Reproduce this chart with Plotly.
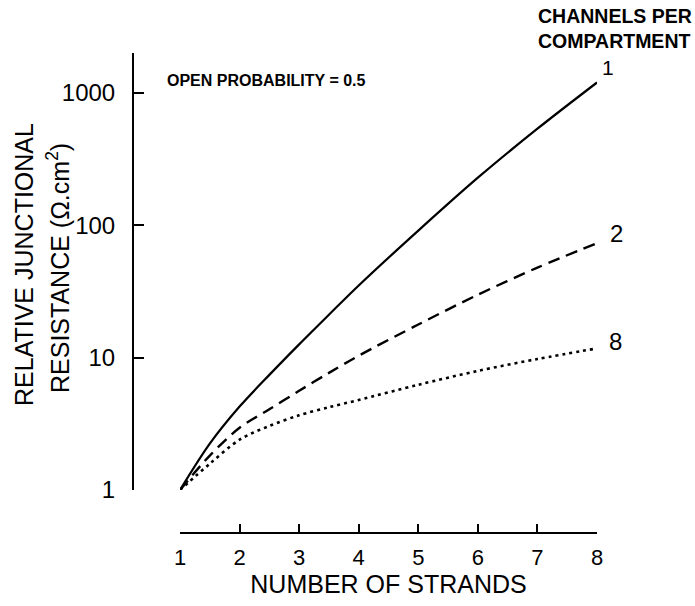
import math
import plotly.graph_objects as go

W, H = 695, 606

strands = [1, 1.5, 2, 2.5, 3, 3.5, 4, 5, 6, 7, 8]
res_1ch = [1, 2.24, 4.27, 7.41, 12.6, 21.1, 35.1, 91.2, 229, 537, 1200]
res_2ch = [1, 1.82, 2.95, 4.07, 5.62, 7.67, 10.35, 17.8, 29.9, 47.9, 73.3]
res_8ch = [1, 1.58, 2.4, 3.05, 3.67, 4.22, 4.79, 6.24, 7.94, 9.77, 11.75]

x_ticks = [1, 2, 3, 4, 5, 6, 7, 8]
y_ticks = [1, 10, 100, 1000]
y_ticktext = ["1", "10", "100", "1000"]
series_labels = ["1", "2", "8"]

FONT = "Liberation Sans, Arial, sans-serif"

def px_x(p):
    return p / W

def px_y(p):
    return (H - p) / H

fig = go.Figure()
styles = [
    dict(color="black", width=2.2, dash="solid"),
    dict(color="black", width=2.4, dash="12px,7px"),
    dict(color="black", width=2.6, dash="3px,4px"),
]
for ys, st, lab in zip([res_1ch, res_2ch, res_8ch], styles, series_labels):
    fig.add_trace(go.Scatter(
        x=strands, y=ys, mode="lines", name=lab,
        line=dict(shape="spline", smoothing=0.9, **st),
        showlegend=False, hoverinfo="skip",
    ))

fig.update_layout(
    width=W, height=H, autosize=False,
    margin=dict(l=0, r=0, t=0, b=0),
    paper_bgcolor="white", plot_bgcolor="white",
    font=dict(family=FONT, color="black"),
    xaxis=dict(
        domain=[px_x(180), px_x(597)], range=[1, 8],
        anchor="free", position=px_y(533),
        showline=True, linecolor="black", linewidth=2,
        ticks="inside", ticklen=8, tickwidth=2, tickcolor="black",
        tickvals=x_ticks, ticktext=[str(v) for v in x_ticks],
        tickfont=dict(size=22, family=FONT),
        ticklabelstandoff=5,
        showgrid=False, zeroline=False, automargin=False,
        title=dict(text="NUMBER OF STRANDS", font=dict(size=25, family=FONT), standoff=2),
    ),
    yaxis=dict(
        type="log", domain=[px_y(490), px_y(53)], range=[0, 3.302],
        anchor="free", position=px_x(133),
        showline=True, linecolor="black", linewidth=2,
        ticks="inside", ticklen=10, tickwidth=2, tickcolor="black",
        tickvals=y_ticks, ticktext=y_ticktext,
        tickfont=dict(size=24, family=FONT),
        ticklabelstandoff=12,
        showgrid=False, zeroline=False, automargin=False,
    ),
)

ann = []
# y-axis title (two lines)
ann.append(dict(x=px_x(24), y=px_y(265), xref="paper", yref="paper",
                text="RELATIVE JUNCTIONAL", textangle=-90, showarrow=False,
                font=dict(size=25, family=FONT), xanchor="center", yanchor="middle"))
ann.append(dict(x=px_x(58), y=px_y(268), xref="paper", yref="paper",
                text="RESISTANCE (Ω.cm<sup>2</sup>)", textangle=-90, showarrow=False,
                font=dict(size=25, family=FONT), xanchor="center", yanchor="middle"))
# open probability note
ann.append(dict(x=px_x(165), y=px_y(80), xref="paper", yref="paper",
                text="<b>OPEN PROBABILITY = 0.5</b>", showarrow=False,
                font=dict(size=16, family=FONT), xanchor="left", yanchor="middle"))
# legend header
ann.append(dict(x=px_x(536), y=px_y(3), xref="paper", yref="paper",
                text="<b>CHANNELS PER</b><br><b>COMPARTMENT</b>", showarrow=False,
                align="left", font=dict(size=19.5, family=FONT),
                xanchor="left", yanchor="top"))
# series end labels
shifts = [(11, 15), (19, 10), (18, 7)]
sizes = [21, 24, 24]
for ys, lab, (dx, dy), sz in zip([res_1ch, res_2ch, res_8ch], series_labels, shifts, sizes):
    ann.append(dict(x=strands[-1], y=math.log10(ys[-1]), xref="x", yref="y",
                    text=lab, showarrow=False, xshift=dx, yshift=dy,
                    font=dict(size=sz, family=FONT), xanchor="center", yanchor="middle"))
fig.update_layout(annotations=ann)

fig.write_html("out.html")
